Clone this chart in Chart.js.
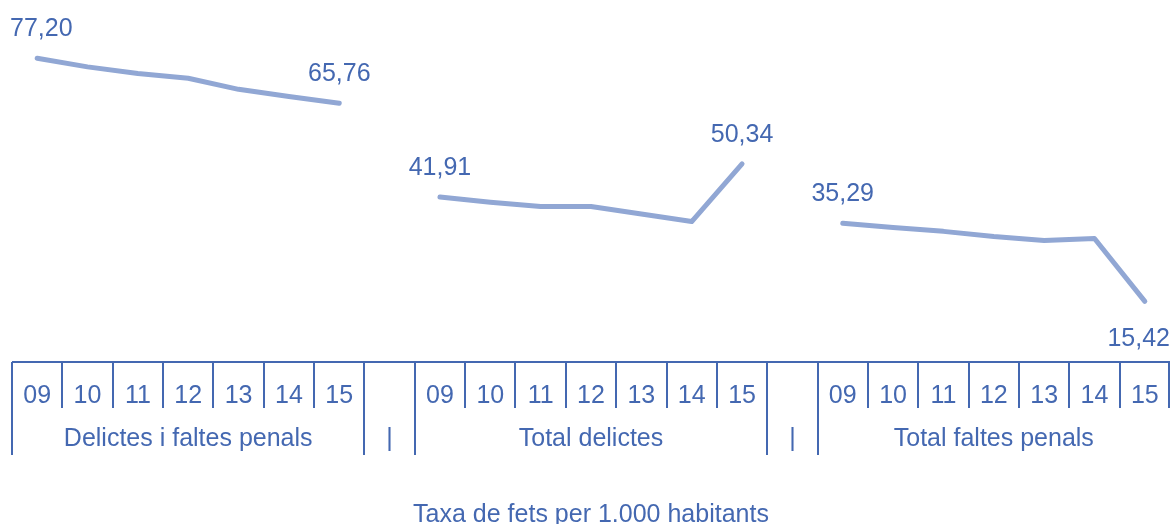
<!DOCTYPE html>
<html>
<head>
<meta charset="utf-8">
<script src="https://cdn.jsdelivr.net/npm/chart.js@4"></script>
<style>
  html, body { margin: 0; padding: 0; background: #fff; }
  #wrap { width: 1173px; height: 524px; }
</style>
</head>
<body>
<div id="wrap"><canvas id="myChart"></canvas></div>
<script>
const years = ['09', '10', '11', '12', '13', '14', '15'];
const groups = ['Delictes i faltes penals', 'Total delictes', 'Total faltes penals'];
const gapLabel = '|';
const delictesFaltes = [77.20, 75.0, 73.3, 72.1, 69.3, 67.5, 65.76];
const totalDelictes = [41.91, 40.6, 39.5, 39.5, 37.6, 35.7, 50.34];
const totalFaltes = [35.29, 34.2, 33.2, 31.9, 30.9, 31.4, 15.42];
const axisTitle = 'Taxa de fets per 1.000 habitants';

const textColor = '#4468b1';
const lineColor = '#91a7d4';
const font = 'Liberation Sans, Arial, sans-serif';
const fontSize = 25;

// labels: 7 years, gap, 7 years, gap, 7 years
let labels = [];
let groupStart = [];
groups.forEach(function (g, gi) {
  if (gi > 0) labels.push('');
  groupStart.push(labels.length);
  years.forEach(y => labels.push(y));
});

function padSeries(values, gi) {
  let arr = labels.map(() => null);
  values.forEach((v, i) => arr[groupStart[gi] + i] = v);
  return arr;
}

const series = [delictesFaltes, totalDelictes, totalFaltes];
const datasets = series.map(function (s, gi) {
  return {
    data: padSeries(s, gi),
    borderColor: lineColor,
    borderWidth: 5,
    borderCapStyle: 'round',
    borderJoinStyle: 'round',
    pointRadius: 0,
    tension: 0,
    spanGaps: false,
    endLabelBelow: gi == 2
  };
});

const tablePlugin = {
  id: 'tablePlugin',
  afterDraw(chart) {
    const c = chart.ctx;
    const x = chart.scales.x;
    const y = chart.scales.y;
    const top = chart.chartArea.bottom;
    const n = labels.length;
    const step = (x.right - x.left) / n;
    c.save();
    c.strokeStyle = textColor;
    c.lineWidth = 2;
    // axis line
    c.beginPath();
    c.moveTo(x.left, top);
    c.lineTo(x.right, top);
    c.stroke();
    // dividers
    for (let i = 0; i <= n; i++) {
      let px = Math.round(x.left + i * step);
      if (i == n) px -= 1;
      let isLong = i == 0 || labels[i] === '' || labels[i - 1] === '';
      c.beginPath();
      c.moveTo(px, top);
      c.lineTo(px, top + (isLong ? 93 : 46));
      c.stroke();
    }
    // group labels
    c.fillStyle = textColor;
    c.font = fontSize + 'px ' + font;
    c.textAlign = 'center';
    c.textBaseline = 'middle';
    groups.forEach(function (g, gi) {
      let a = x.getPixelForValue(groupStart[gi]);
      let b = x.getPixelForValue(groupStart[gi] + years.length - 1);
      c.fillText(g, (a + b) / 2, top + 77);
      if (gi > 0) {
        c.fillText(gapLabel, x.getPixelForValue(groupStart[gi] - 1), top + 77);
      }
    });
    // value labels at first and last points, kept inside the canvas
    chart.data.datasets.forEach(function (ds, gi) {
      let first = groupStart[gi];
      let last = first + years.length - 1;
      [first, last].forEach(function (i) {
        let v = ds.data[i];
        let txt = v.toFixed(2).replace('.', ',');
        let w = c.measureText(txt).width;
        let px = x.getPixelForValue(i);
        px = Math.max(px, w / 2 + 10);
        px = Math.min(px, chart.width - 3 - w / 2);
        let py = y.getPixelForValue(v);
        let below = ds.endLabelBelow && i == last;
        c.fillText(txt, px, below ? py + 38 : py - 29);
      });
    });
    c.restore();
  }
};

const ctx = document.getElementById('myChart');
new Chart(ctx, {
  type: 'line',
  data: {
    labels: labels,
    datasets: datasets
  },
  options: {
    responsive: true,
    maintainAspectRatio: false,
    animation: false,
    layout: {
      padding: { left: 12, right: 3, top: 0, bottom: 0 }
    },
    plugins: {
      legend: { display: false },
      tooltip: { enabled: false },
      title: { display: false }
    },
    scales: {
      x: {
        offset: true,
        grid: {
          display: true,
          drawOnChartArea: false,
          drawTicks: true,
          tickLength: 19,
          color: 'rgba(0,0,0,0)'
        },
        border: { display: false },
        ticks: {
          color: textColor,
          font: { family: font, size: fontSize },
          padding: 0,
          maxRotation: 0,
          autoSkip: false
        },
        title: {
          display: true,
          text: axisTitle,
          color: textColor,
          font: { family: font, size: fontSize, lineHeight: 0.7 },
          padding: { top: 0, bottom: 0 }
        },
        afterFit(scale) {
          scale.height = 162;
        }
      },
      y: {
        display: false,
        min: 0,
        max: 92
      }
    }
  },
  plugins: [tablePlugin]
});
</script>
</body>
</html>
